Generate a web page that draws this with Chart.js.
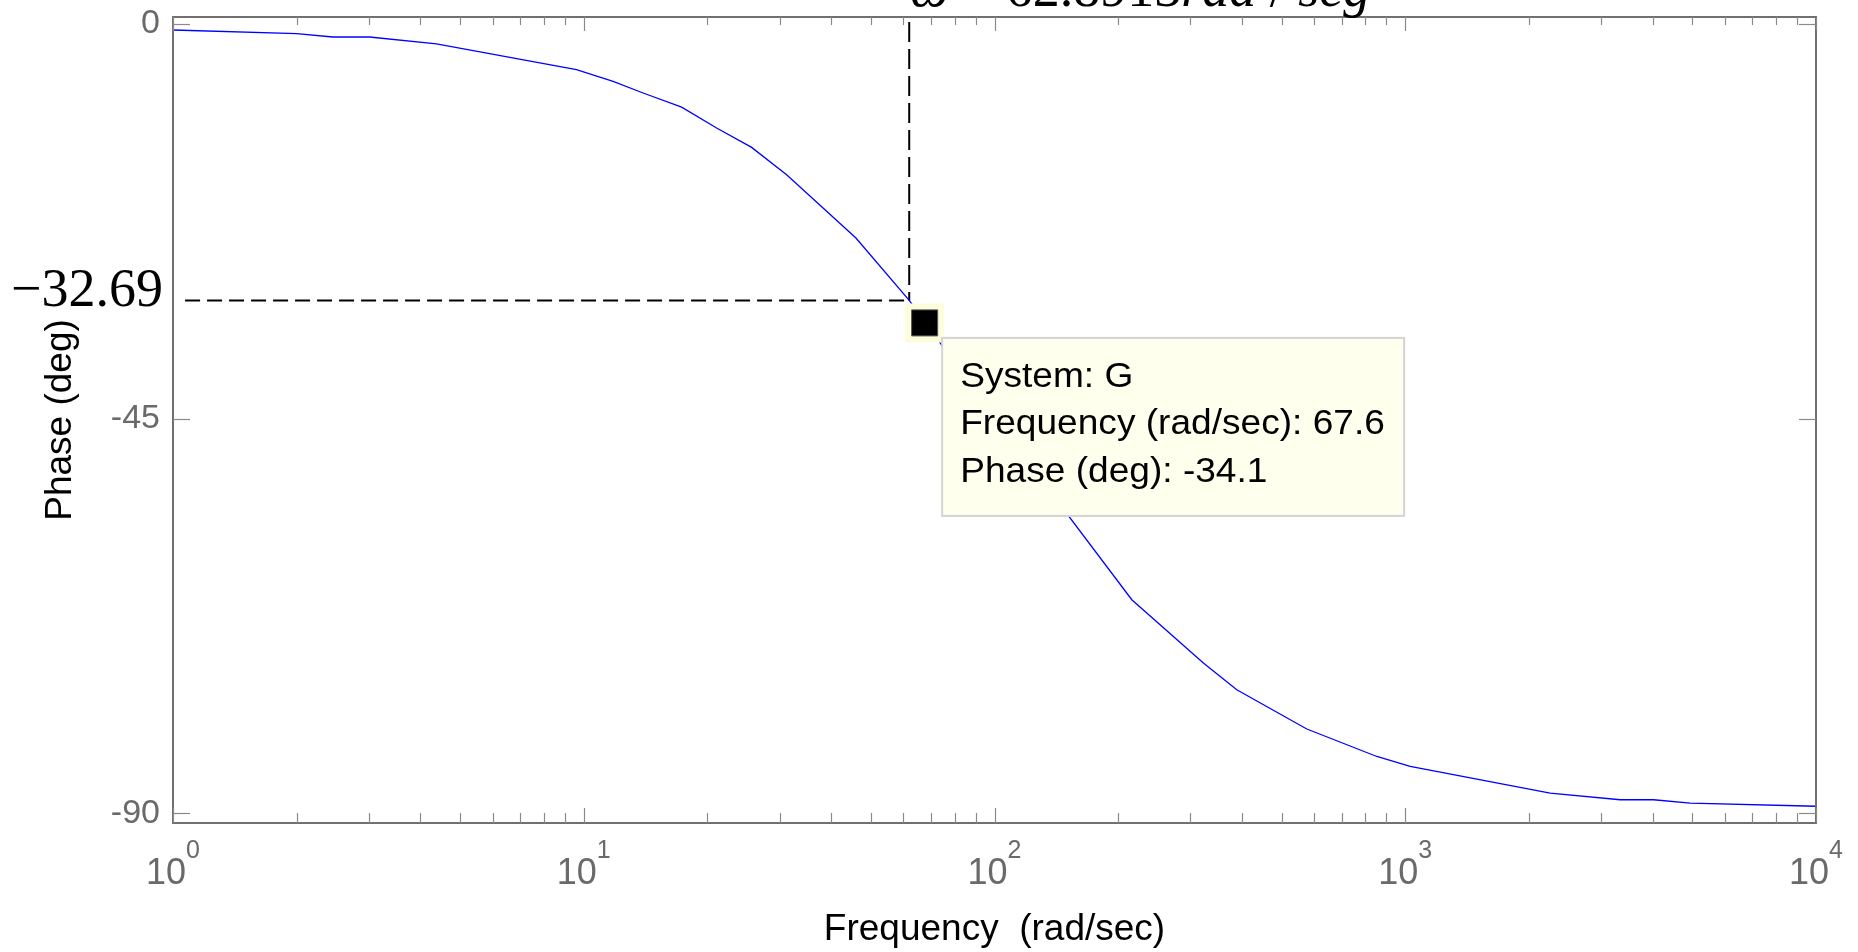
<!DOCTYPE html>
<html>
<head>
<meta charset="utf-8">
<script src="https://cdn.jsdelivr.net/npm/chart.js@4.4.1/dist/chart.umd.min.js"></script>
<style>
html,body{margin:0;padding:0;background:#fff;overflow:hidden}
canvas{display:block}
</style>
</head>
<body>
<canvas id="c" width="1858" height="952"></canvas>
<script>
// ---------------- data ----------------
const frequency = [1.0, 2.0, 2.45, 3.01, 4.38, 9.60, 11.79, 13.95, 17.31, 21.06, 25.63, 31.18, 45.99, 62.0, 100.8, 215.9, 322.5, 388.9, 575.9, 852.8, 1028, 2253, 3337, 4023, 4941, 10000];
const phaseDeg  = [-0.72, -1.14, -1.52, -1.52, -2.31, -5.24, -6.58, -7.90, -9.52, -11.89, -14.10, -17.21, -24.42, -31.54, -45.13, -65.65, -72.86, -75.91, -80.38, -83.51, -84.65, -87.68, -88.44, -88.44, -88.82, -89.18];

const yTickValues = [-90, -45, 0];
const xDecades = [1, 10, 100, 1000, 10000];
const xDecadeExponents = ['0', '1', '2', '3', '4'];
const xMinorMantissas = [2, 3, 4, 5, 6, 7, 8, 9];

// crossover guide lines
const guideHFreq  = [1.07, 62.0];
const guideHPhase = [-31.54, -31.54];
const guideVFreq  = [62.0, 62.0];
const guideVPhase = [0.2, -31.54];
const crossoverPhaseLabel = '\u221232.69';
const crossoverFreqLabel = [
  {t: '\u03C9', it: true}, {t: ' = ', it: false}, {t: '62.8913', it: false},
  {t: 'rad', it: true}, {t: ' / ', it: false}, {t: 'seg', it: true}
];

// data tip
const datatipFreq  = [67.6];
const datatipPhase = [-34.1];
const datatipLines = ['System: G', 'Frequency (rad/sec): 67.6', 'Phase (deg): -34.1'];

const xTitle = 'Frequency  (rad/sec)';
const yTitle = 'Phase (deg)';

// ---------------- styles ----------------
const SANS = "'Liberation Sans', Arial, Helvetica, sans-serif";
const SERIF = "'Liberation Serif', 'Times New Roman', serif";
const AXIS_COLOR = '#707070';
const TICK_COLOR = '#8a8a8a';
const LABEL_GRAY = '#6a6a6a';

const pts = (xs, ys) => xs.map((v, i) => ({x: v, y: ys[i]}));

const decor = {
  id: 'decor',
  afterDatasetsDraw(chart) {
    const {ctx, chartArea: a, scales: {x, y}} = chart;
    ctx.save();

    // frame
    ctx.strokeStyle = AXIS_COLOR;
    ctx.lineWidth = 2;
    ctx.strokeRect(a.left, a.top, a.right - a.left, a.bottom - a.top);

    // x ticks (inward, top and bottom)
    ctx.strokeStyle = TICK_COLOR;
    ctx.lineWidth = 1.2;
    const seg = (x1, y1, x2, y2) => { ctx.beginPath(); ctx.moveTo(x1, y1); ctx.lineTo(x2, y2); ctx.stroke(); };
    xDecades.forEach((d, i) => {
      const px = Math.round(x.getPixelForValue(d)) + 0.5;
      seg(px, a.bottom, px, a.bottom - 15);
      seg(px, a.top, px, a.top + 14);
      if (i < xDecades.length - 1) {
        xMinorMantissas.forEach(m => {
          const q = Math.round(x.getPixelForValue(d * m)) + 0.5;
          seg(q, a.bottom, q, a.bottom - 10);
          seg(q, a.top, q, a.top + 8);
        });
      }
    });
    // y ticks (inward, left and right)
    yTickValues.forEach(v => {
      const py = Math.round(y.getPixelForValue(v)) + 0.5;
      seg(a.left, py, a.left + 17, py);
      seg(a.right, py, a.right - 17, py);
    });

    // x tick labels 10^k
    ctx.fillStyle = LABEL_GRAY;
    ctx.textBaseline = 'alphabetic';
    ctx.textAlign = 'left';
    xDecades.forEach((d, i) => {
      const px = x.getPixelForValue(d);
      ctx.font = '36px ' + SANS;
      const wb = ctx.measureText('10').width;
      ctx.font = '25px ' + SANS;
      const we = ctx.measureText(xDecadeExponents[i]).width;
      const start = px - (wb + we) / 2;
      ctx.font = '36px ' + SANS;
      ctx.fillText('10', start, a.bottom + 61);
      ctx.font = '25px ' + SANS;
      ctx.fillText(xDecadeExponents[i], start + wb, a.bottom + 35);
    });

    // crossover labels
    const gx = x.getPixelForValue(guideVFreq[0]);
    const gy = y.getPixelForValue(guideHPhase[0]);
    ctx.fillStyle = '#000';
    ctx.font = '54px ' + SERIF;
    ctx.textAlign = 'right';
    ctx.fillText(crossoverPhaseLabel, a.left - 10, gy + 6);

    ctx.textAlign = 'left';
    let cx = gx + 1;
    crossoverFreqLabel.forEach(p => {
      ctx.font = (p.it ? 'italic ' : '') + '54px ' + SERIF;
      ctx.fillText(p.t, cx, 6);
      cx += ctx.measureText(p.t).width;
    });

    // data tip box
    const mx = x.getPixelForValue(datatipFreq[0]);
    const my = y.getPixelForValue(datatipPhase[0]);
    const bx = mx + 17.5, by = my + 15, bw = 462, bh = 178;
    ctx.fillStyle = '#FFFFEE';
    ctx.fillRect(bx, by, bw, bh);
    ctx.strokeStyle = '#d4d4d4';
    ctx.lineWidth = 2;
    ctx.strokeRect(bx, by, bw, bh);
    ctx.fillStyle = '#000';
    ctx.font = '35px ' + SANS;
    datatipLines.forEach((t, i) => {
      ctx.save();
      ctx.translate(bx + 18, by + 49 + i * 47.5);
      ctx.scale(1.06, 1);
      ctx.fillText(t, 0, 0);
      ctx.restore();
    });

    ctx.restore();
  }
};

Chart.defaults.font.family = SANS;

new Chart(document.getElementById('c'), {
  type: 'line',
  data: {
    datasets: [
      { label: 'tip', data: pts(datatipFreq, datatipPhase), showLine: false,
        pointStyle: 'rect', pointRadius: 18.4, backgroundColor: '#000', borderColor: '#555', borderWidth: 1, order: 0 },
      { label: 'tipframe', data: pts(datatipFreq, datatipPhase), showLine: false,
        pointStyle: 'rect', pointRadius: 27.6, backgroundColor: '#FDFDDC', borderColor: '#FDFDDC', borderWidth: 0, order: 1 },
      { label: 'G', data: pts(frequency, phaseDeg), borderColor: '#0000ff', borderWidth: 1.3,
        pointRadius: 0, fill: false, tension: 0, order: 2 },
      { label: 'gh', data: pts(guideHFreq, guideHPhase), borderColor: '#000', borderWidth: 2,
        borderDash: [15, 7], pointRadius: 0, fill: false, order: 3 },
      { label: 'gv', data: pts(guideVFreq, guideVPhase), borderColor: '#000', borderWidth: 2,
        borderDash: [20, 7], pointRadius: 0, fill: false, order: 3 }
    ]
  },
  options: {
    responsive: false,
    animation: false,
    events: [],
    devicePixelRatio: 1,
    layout: { autoPadding: false, padding: { top: 17, right: 42, left: 0, bottom: 0 } },
    plugins: { legend: { display: false }, tooltip: { enabled: false } },
    scales: {
      x: {
        type: 'logarithmic',
        min: 1, max: 10000,
        grid: { display: false, drawTicks: false },
        border: { display: false },
        ticks: { display: false },
        title: { display: true, text: xTitle, color: '#000', font: { size: 37 }, padding: { top: 0, bottom: 0 } },
        afterFit: s => { s.height = 129; s.paddingLeft = 0; s.paddingRight = 0; }
      },
      y: {
        type: 'linear',
        min: -91.09, max: 0.76,
        grid: { display: false, drawTicks: false },
        border: { display: false },
        afterBuildTicks: s => { s.ticks = yTickValues.map(v => ({ value: v })); },
        ticks: { autoSkip: false, color: LABEL_GRAY, font: { size: 34, lineHeight: 0.15 }, padding: 13,
                 callback: v => String(v) },
        title: { display: true, text: yTitle, color: '#000', font: { size: 37 }, padding: { top: 39, bottom: 0 } },
        afterFit: s => { s.width = 173; s.paddingTop = 0; s.paddingBottom = 0; }
      }
    }
  },
  plugins: [decor]
});
</script>
</body>
</html>
